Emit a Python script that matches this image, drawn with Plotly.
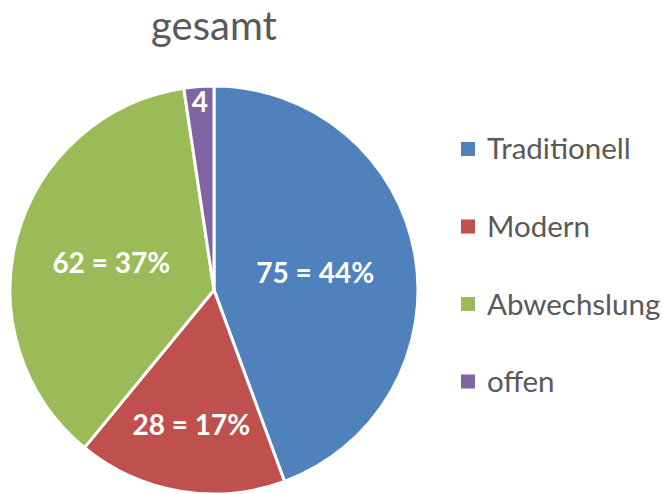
import plotly.graph_objects as go

labels = ["Traditionell", "Modern", "Abwechslung", "offen"]
values = [75, 28, 62, 4]
slice_text = ["75 = 44%", "28 = 17%", "62 = 37%", "4"]
colors = ["#4F81BD", "#C0504D", "#9BBB59", "#8064A2"]
title_text = "gesamt"

W, H = 663, 494
FONT = "Lato"
GRAY = "#595959"

fig = go.Figure()
fig.add_trace(go.Pie(
    labels=labels,
    values=values,
    text=slice_text,
    textinfo="text",
    textposition="inside",
    insidetextorientation="horizontal",
    textfont=dict(family=FONT, size=28, color="white", weight="bold"),
    marker=dict(colors=colors, line=dict(color="white", width=3)),
    sort=False,
    direction="clockwise",
    rotation=0,
    showlegend=False,
    hoverinfo="label+value+percent",
    domain=dict(x=[10 / W, 418 / W], y=[0 / H, 408 / H]),
))

# manual legend (evenly spaced entries, like the original)
legend_top = 149
legend_step = 77.5
sq = 14
for i, (lab, col) in enumerate(zip(labels, colors)):
    yc = legend_top + i * legend_step
    fig.add_shape(type="rect", xref="paper", yref="paper",
                  x0=461 / W, x1=(461 + sq) / W,
                  y0=1 - (yc + sq / 2) / H, y1=1 - (yc - sq / 2) / H,
                  fillcolor=col, line=dict(width=0))
    fig.add_annotation(xref="paper", yref="paper", x=485 / W, y=1 - (yc - 1) / H,
                       text=lab, showarrow=False, xanchor="left", yanchor="middle",
                       font=dict(family=FONT, size=29.5, color=GRAY))

fig.update_layout(
    width=W, height=H,
    margin=dict(l=0, r=0, t=0, b=0),
    paper_bgcolor="white",
    plot_bgcolor="white",
    uniformtext=dict(minsize=28, mode="show"),
    title=dict(text=title_text, x=214 / W, xanchor="center", y=1 - 26 / H, yanchor="middle",
               font=dict(family=FONT, size=40, color=GRAY)),
)

fig.write_html("out.html", config={"displayModeBar": False},
               post_script="document.body.style.margin='0px';")
